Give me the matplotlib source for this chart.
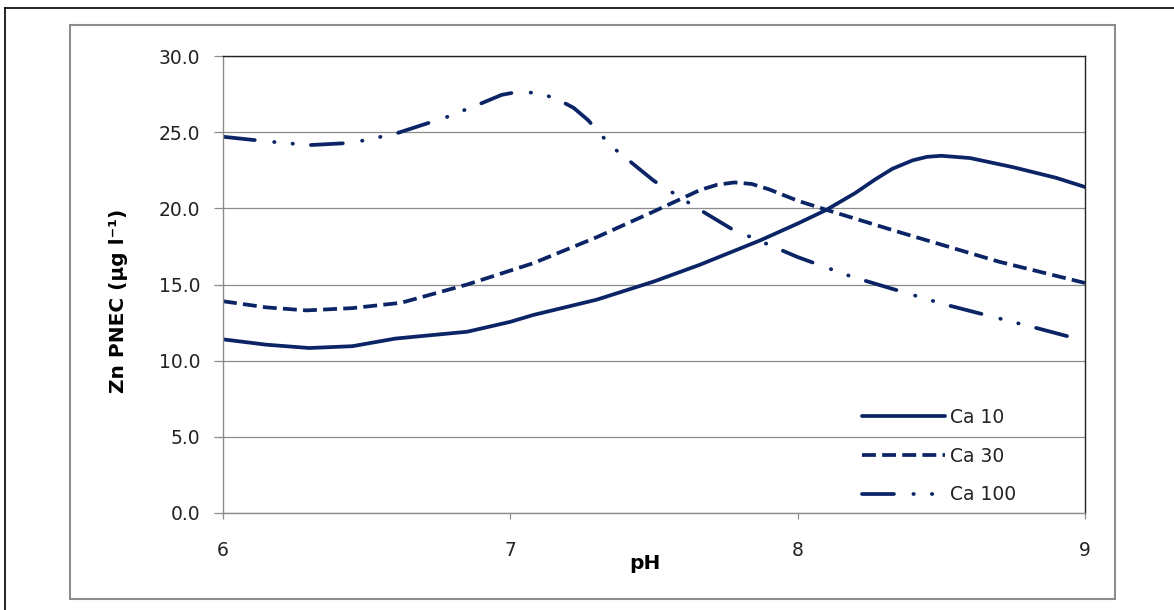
import matplotlib
matplotlib.use("Agg")
import matplotlib.pyplot as plt
from matplotlib.lines import Line2D
from matplotlib.patches import Rectangle

# values
ph_ca10 = [6.0, 6.15, 6.3, 6.45, 6.6, 6.85, 7.0, 7.08, 7.3, 7.5, 7.66, 7.87,
           8.0, 8.1, 8.2, 8.27, 8.33, 8.4, 8.45, 8.5, 8.6, 8.75, 8.9, 9.0]
pnec_ca10 = [11.4, 11.05, 10.83, 10.95, 11.45, 11.9, 12.55, 13.0, 14.0, 15.2, 16.3, 17.9,
             19.0, 19.9, 21.0, 21.9, 22.6, 23.15, 23.38, 23.45, 23.3, 22.7, 22.0, 21.4]

ph_ca30 = [6.0, 6.15, 6.29, 6.45, 6.62, 6.85, 7.08, 7.3, 7.5, 7.66, 7.72, 7.78,
           7.84, 7.9, 8.0, 8.1, 8.36, 8.7, 9.0]
pnec_ca30 = [13.9, 13.5, 13.3, 13.45, 13.8, 15.0, 16.4, 18.1, 19.8, 21.2, 21.55, 21.7,
             21.6, 21.25, 20.5, 19.9, 18.4, 16.5, 15.1]

ph_ca100 = [6.0, 6.15, 6.3, 6.45, 6.6, 6.78, 6.9, 6.97, 7.03, 7.1, 7.16, 7.22, 7.27,
            7.35, 7.5, 7.66, 7.77, 8.0, 8.19, 8.51, 8.84, 9.0]
pnec_ca100 = [24.7, 24.4, 24.15, 24.3, 24.9, 26.0, 26.9, 27.45, 27.66, 27.55, 27.2, 26.6, 25.8,
              24.1, 21.8, 19.9, 18.65, 16.8, 15.5, 13.7, 12.1, 11.3]

labels = ["Ca 10", "Ca 30", "Ca 100"]
x_ticks = [6, 7, 8, 9]
y_ticks = [0, 5, 10, 15, 20, 25, 30]

NAVY = "#0a2466"
GRID = "#8c8c8c"

plt.rcParams["lines.scale_dashes"] = False
plt.rcParams["font.family"] = "DejaVu Sans"

fig = plt.figure(figsize=(11.74, 6.10), dpi=100)
fig.patch.set_facecolor("white")

# outer frame lines and chart area border
fig.add_artist(Line2D([5 / 1174, 5 / 1174], [0, 1 - 8 / 610], color="black", lw=1.2,
                      transform=fig.transFigure))
fig.add_artist(Line2D([5 / 1174, 1], [1 - 8 / 610, 1 - 8 / 610], color="black", lw=1.2,
                      transform=fig.transFigure))
fig.add_artist(Rectangle((70 / 1174, 1 - 599 / 610), 1045 / 1174, 574 / 610,
                         fill=False, edgecolor=GRID, lw=1.5, transform=fig.transFigure))

ax = fig.add_axes([223 / 1174, 1 - 513 / 610, 862 / 1174, 457 / 610])

lw = 2.7
ax.plot(ph_ca10, pnec_ca10, color=NAVY, lw=lw, solid_capstyle="round",
        solid_joinstyle="round", label=labels[0])
ax.plot(ph_ca30, pnec_ca30, color=NAVY, lw=lw, dashes=(10, 4.5),
        dash_capstyle="butt", label=labels[1])
ax.plot(ph_ca100, pnec_ca100, color=NAVY, lw=lw, dashes=(23, 14, 0.3, 13, 0.3, 13),
        dash_capstyle="round", label=labels[2])

ax.set_xlim(6, 9)
ax.set_ylim(0, 30)
ax.set_xticks(x_ticks)
ax.set_yticks(y_ticks)
ax.set_yticklabels([f"{v:.1f}" for v in y_ticks])
ax.set_xticklabels([str(v) for v in x_ticks])

ax.grid(axis="y", color=GRID, lw=0.9)
ax.set_axisbelow(True)

for side in ["left", "bottom"]:
    ax.spines[side].set_color(GRID)
    ax.spines[side].set_linewidth(1.0)
for side in ["top", "right"]:
    ax.spines[side].set_color("#222222")
    ax.spines[side].set_linewidth(1.0)

ax.tick_params(axis="y", direction="out", length=6.5, width=0.9, color=GRID,
               labelsize=13.5, pad=10, labelcolor="#222222")
ax.tick_params(axis="x", direction="out", length=4.5, width=0.9, color=GRID,
               labelsize=13.5, pad=16, labelcolor="#222222")

ax.set_xlabel("pH", fontsize=14.5, fontweight="bold")
ax.xaxis.set_label_coords(0.49, -0.09)
ax.set_ylabel("Zn PNEC (\u00b5g l\u207b\u00b9)", fontsize=14.5, fontweight="bold")
ax.yaxis.set_label_coords(-0.11, 0.465)

leg = ax.legend(loc="upper left", bbox_to_anchor=(862 / 1174, 1 - 408 / 610),
                bbox_transform=fig.transFigure, frameon=False, fontsize=13.5,
                handlelength=4.4, handletextpad=0.3, labelspacing=1.05, borderpad=0,
                borderaxespad=0)
for text in leg.get_texts():
    text.set_color("#222222")

fig.savefig("out.png", dpi=100, facecolor="white")
